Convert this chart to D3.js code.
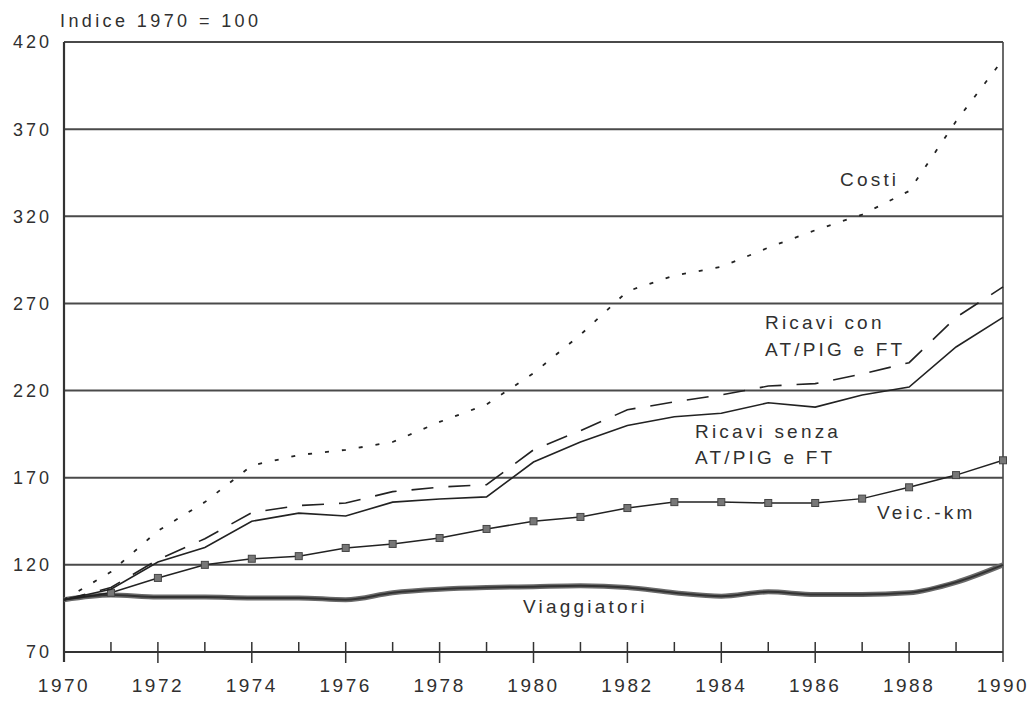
<!DOCTYPE html>
<html><head><meta charset="utf-8">
<script src="https://cdn.jsdelivr.net/npm/d3@7"></script>
<style>
body{margin:0;background:#fff;}
text{font-family:"Liberation Sans",Arial,sans-serif;fill:#303030;}
</style></head>
<body><svg id="c" width="1036" height="701"></svg>
<script>
const years = d3.range(1970, 1991);
const yTicks = [70,120,170,220,270,320,370,420];
const xTickLabels = [1970,1972,1974,1976,1978,1980,1982,1984,1986,1988,1990];
const costi = [100,116,139.5,156,177,183,186,190.5,202,212,230,252,277,286,291,302,312,321,334.5,374.5,410];
const ricaviCon = [100,107,123,135,150,154,155.5,162,164.6,166,186,197,209,213.5,217.5,222.6,224,229.5,236,262,279.5];
const ricaviSenza = [100,106,121.6,130,145,149.7,148,156,157.8,159,179,190.5,200,205,207,213,210.5,217.5,222,245,262];
const veicKm = [100,104,112.5,120,123.5,125,129.7,132,135.4,140.6,145,147.5,152.6,156,156,155.5,155.5,158,164.5,171.5,180];
const viaggiatori = [100,102.7,101.5,101.5,101,101,100,104,106,107,107.5,108,107,104,102,104.5,103,103,104,110,120];

const svg = d3.select("#c");
const x = d3.scaleLinear().domain([1970,1990]).range([64,1003]);
const y = d3.scaleLinear().domain([70,420]).range([652,42]);

// gridlines
svg.append("g").selectAll("line").data(yTicks.filter(d=>d>70)).join("line")
  .attr("x1",x(1970)).attr("x2",x(1990)).attr("y1",d=>y(d)).attr("y2",d=>y(d))
  .attr("stroke","#4a4a4a").attr("stroke-width",2);

// y labels
svg.append("g").selectAll("text").data(yTicks).join("text")
  .attr("x",52).attr("y",d=>y(d)).attr("dy","0.36em").attr("text-anchor","end")
  .style("font-size","18px").style("letter-spacing","3px").text(d=>d);

// left axis & right border
svg.append("line").attr("x1",x(1970)).attr("x2",x(1970)).attr("y1",y(420)).attr("y2",662)
  .attr("stroke","#333").attr("stroke-width",2.2);
svg.append("line").attr("x1",x(1990)).attr("x2",x(1990)).attr("y1",y(420)).attr("y2",662)
  .attr("stroke","#444").attr("stroke-width",1.6);
// x axis
svg.append("line").attr("x1",x(1970)).attr("x2",x(1990)).attr("y1",y(70)).attr("y2",y(70))
  .attr("stroke","#333").attr("stroke-width",2);
svg.append("g").selectAll("line").data(years.filter(d=>d>1970&&d<1990)).join("line")
  .attr("x1",d=>x(d)).attr("x2",d=>x(d)).attr("y1",y(70)-10).attr("y2",d=>d%2===0?y(70)+11:y(70))
  .attr("stroke","#333").attr("stroke-width",1.5);
svg.append("g").selectAll("text").data(xTickLabels).join("text")
  .attr("x",d=>x(d)).attr("y",692).attr("text-anchor","middle")
  .style("font-size","19px").style("letter-spacing","2.5px").text(d=>d);

// title
svg.append("text").attr("x",60).attr("y",27).style("font-size","18px").style("letter-spacing","3.4px").text("Indice 1970 = 100");

const lineGen = d3.line().x((d,i)=>x(years[i])).y(d=>y(d));
const smooth = d3.line().x((d,i)=>x(years[i])).y(d=>y(d)).curve(d3.curveMonotoneX);

svg.append("path").attr("d",smooth(viaggiatori)).attr("fill","none").attr("stroke","#6a6a6a").attr("stroke-width",5);
svg.append("path").attr("d",smooth(viaggiatori)).attr("fill","none").attr("stroke","#333").attr("stroke-width",2);

svg.append("path").attr("d",lineGen(veicKm)).attr("fill","none").attr("stroke","#222").attr("stroke-width",1.5);
svg.append("g").selectAll("rect").data(veicKm.slice(1)).join("rect")
  .attr("x",(d,i)=>x(years[i+1])-3.5).attr("y",d=>y(d)-3.5).attr("width",7).attr("height",7)
  .attr("fill","#777").attr("stroke","#444").attr("stroke-width",1);

svg.append("path").attr("d",lineGen(ricaviSenza)).attr("fill","none").attr("stroke","#222").attr("stroke-width",1.6);
svg.append("path").attr("d",lineGen(ricaviCon)).attr("fill","none").attr("stroke","#222").attr("stroke-width",1.6).attr("stroke-dasharray","22,15");
svg.append("path").attr("d",lineGen(costi)).attr("fill","none").attr("stroke","#222").attr("stroke-width",1.8).attr("stroke-dasharray","4,13");

// labels
const lab = (tx,xx,yy)=>svg.append("text").attr("x",xx).attr("y",yy).style("font-size","19px").style("letter-spacing","3.2px").text(tx);
lab("Costi",840,186);
lab("Ricavi con",765,329);
lab("AT/PIG e FT",765,356);
lab("Ricavi senza",695,438);
lab("AT/PIG e FT",695,464);
lab("Veic.-km",877,519);
lab("Viaggiatori",523,613);
</script></body></html>
